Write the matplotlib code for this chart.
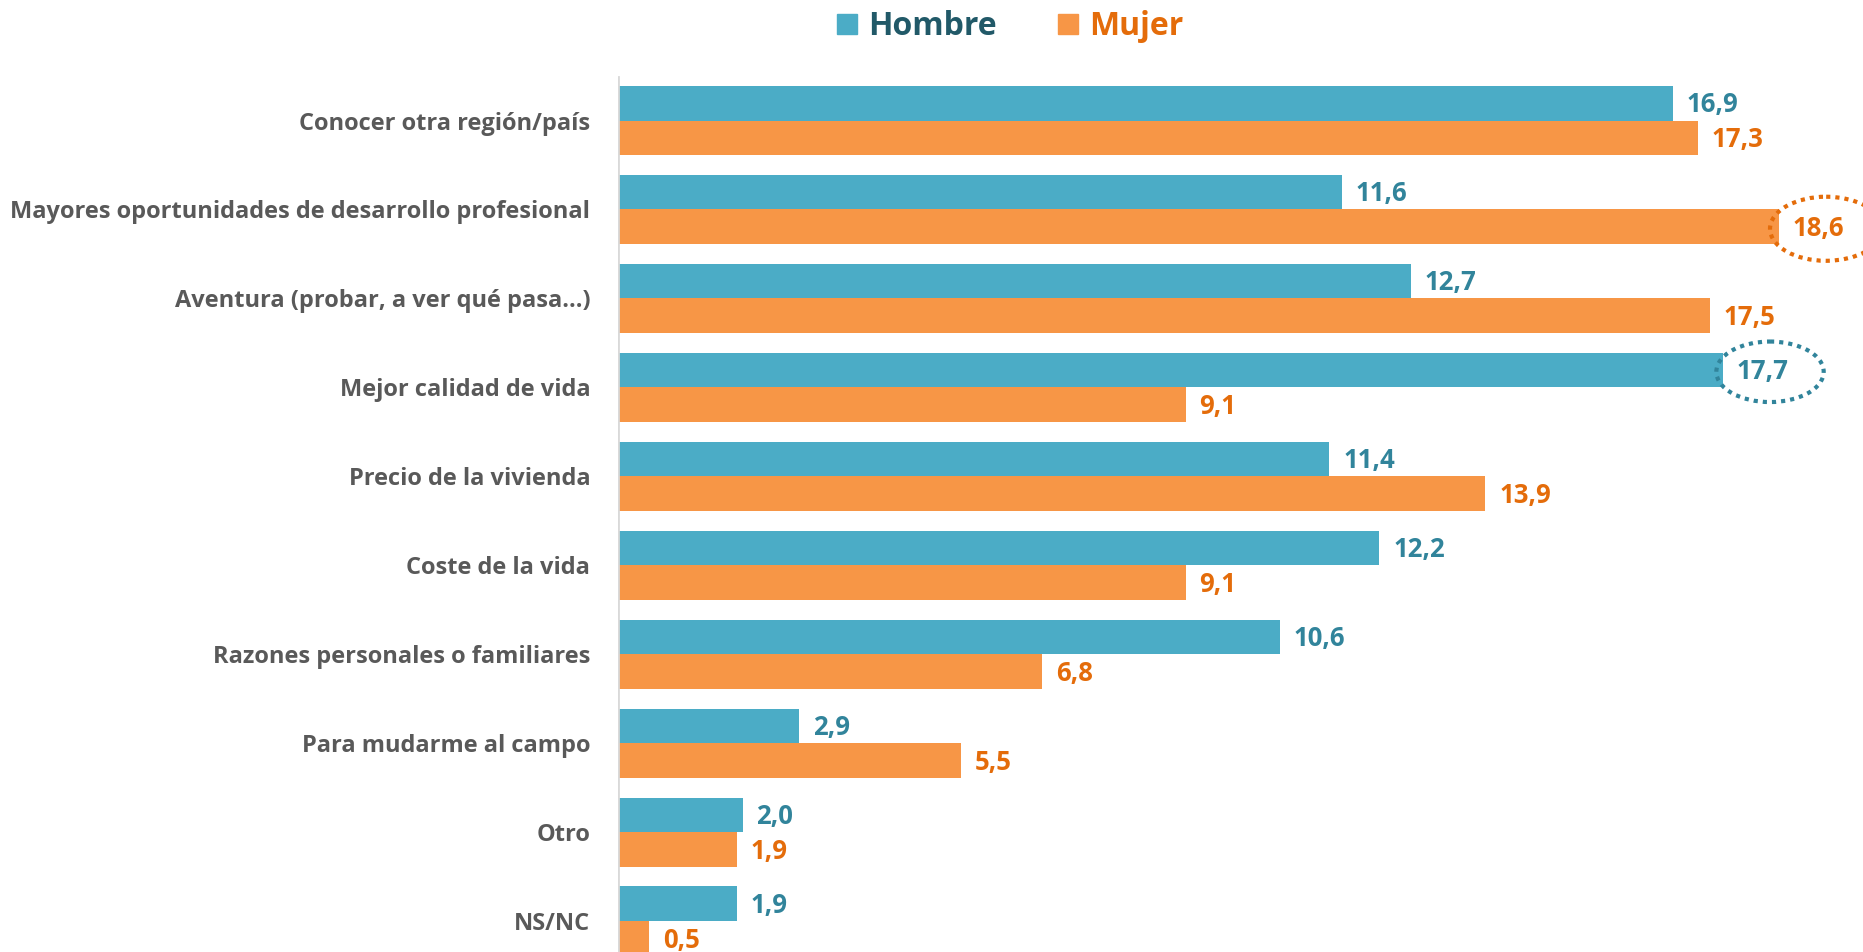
import matplotlib
matplotlib.use("Agg")
from matplotlib import pyplot as plt
from matplotlib.patches import Ellipse
from matplotlib.lines import Line2D

plt.rcParams['font.family'] = ['Open Sans', 'DejaVu Sans']

categorias = ["Conocer otra región/país",
              "Mayores oportunidades de desarrollo profesional",
              "Aventura (probar, a ver qué pasa…)",
              "Mejor calidad de vida",
              "Precio de la vivienda",
              "Coste de la vida",
              "Razones personales o familiares",
              "Para mudarme al campo",
              "Otro",
              "NS/NC"]
hombre = [16.9, 11.6, 12.7, 17.7, 11.4, 12.2, 10.6, 2.9, 2.0, 1.9]
mujer = [17.3, 18.6, 17.5, 9.1, 13.9, 9.1, 6.8, 5.5, 1.9, 0.5]

c_hombre = "#4BACC6"
c_mujer = "#F79646"
t_hombre = "#31849B"
t_mujer = "#E46C0A"

fig = plt.figure(figsize=(18.63, 9.52), dpi=100)
ax = fig.add_axes([618 / 1863, 0, 1 - 618 / 1863, 1])

bar_h = 0.393
y = list(range(len(categorias)))
y_h = [i - bar_h / 2 for i in y]
y_m = [i + bar_h / 2 for i in y]

ax.barh(y_h, hombre, height=bar_h, color=c_hombre)
ax.barh(y_m, mujer, height=bar_h, color=c_mujer)

for yy, v in zip(y_h, hombre):
    ax.text(v + 0.22, yy + 0.02, f"{v:.1f}".replace(".", ","), va="center", ha="left",
            fontsize=18.5, fontweight="bold", color=t_hombre)
for yy, v in zip(y_m, mujer):
    ax.text(v + 0.22, yy + 0.02, f"{v:.1f}".replace(".", ","), va="center", ha="left",
            fontsize=18.5, fontweight="bold", color=t_mujer)

# elipses punteadas en los máximos
i_m = mujer.index(max(mujer))
i_h = hombre.index(max(hombre))
ax.add_patch(Ellipse((mujer[i_m] + 0.76, y_m[i_m] + 0.02), 1.80, 0.72, fill=False,
                     edgecolor=t_mujer, linestyle=(0, (1, 1.2)), linewidth=3, clip_on=False))
ax.add_patch(Ellipse((hombre[i_h] + 0.76, y_h[i_h] + 0.02), 1.72, 0.68, fill=False,
                     edgecolor=t_hombre, linestyle=(0, (1, 1.2)), linewidth=3, clip_on=False))

ax.set_xlim(0, 19.95)
ax.set_ylim(9.343, -1.354)
ax.set_yticks(y)
ax.set_yticklabels(categorias, fontsize=17, fontweight="bold", color="#595959")
ax.tick_params(axis="y", length=0, pad=20)
ax.set_xticks([])
for s in ax.spines.values():
    s.set_visible(False)
ax.axvline(0, ymin=0, ymax=1 - 77 / 952, color="#D9D9D9", linewidth=2)

handles = [Line2D([], [], marker="s", linestyle="", markersize=15, color=c_hombre),
           Line2D([], [], marker="s", linestyle="", markersize=15, color=c_mujer)]
fig.legend(handles, ["Hombre", "Mujer"], loc="center", bbox_to_anchor=(0.542, 0.972),
           ncol=2, frameon=False, handlelength=0.7, handletextpad=0.3, columnspacing=1.9,
           labelcolor=["#215968", t_mujer], prop={"size": 23, "weight": "bold"})

fig.savefig("out.png", dpi=100)
